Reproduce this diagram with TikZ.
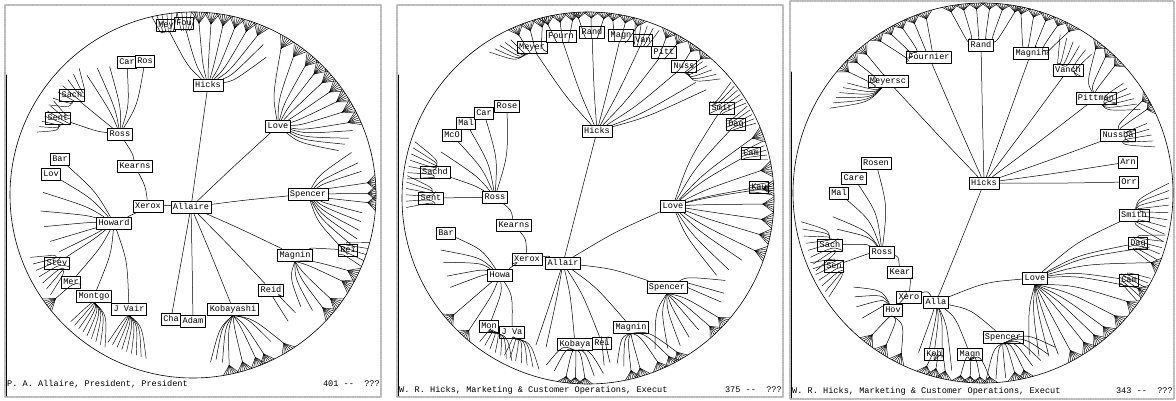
\documentclass[tikz,border=0pt]{standalone}
\usepackage{fontspec}
\newfontfamily\lmono{Liberation Mono}
\usetikzlibrary{calc}

\tikzset{
  emp/.style={draw, fill=white, line width=0.6pt,
    font=\lmono\fontsize{8.6}{10}\selectfont,
    inner xsep=2pt, inner ysep=2.3pt, text height=6pt, text depth=1.5pt},
  stat/.style={font=\lmono\fontsize{8.6}{10}\selectfont, inner sep=0pt},
  edge/.style={line width=0.5pt},
  leaf/.style={line width=0.45pt},
  rimline/.style={line width=0.6pt},
  frame/.style={draw=gray!55, densely dotted, line width=1.4pt},
}

% curved link, bowed towards the disc centre (o)
\newcommand{\geo}[3][edge]{%
  \path ($(#2)!.5!(#3)$) coordinate (mid);
  \draw[#1] (#2) .. controls ($(o)!.92!(mid)$) .. (#3);
}
% link out to a spot near the rim, with a tuft at its end
\newcommand{\twig}[3]{%
  \path (o) ++(#2:#3) coordinate (tip);
  \geo{#1}{tip}
  \foreach \dd in {-3,...,3}{
    \pgfmathsetmacro\ta{#2+0.8*\dd}
    \path (o) ++(\ta:\R) coordinate (rim);
    \draw[leaf] (tip) -- (rim);
  }
}
\newcommand{\twigs}[3]{\foreach \tw in {#2}{\twig{#1}{\tw}{#3}}}
% bare links
\newcommand{\stubs}[2]{%
  \foreach \su/\sv in {#2}{
    \path (o) ++(\su:\sv) coordinate (tip);
    \geo{#1}{tip}
  }
}
% fan of lines from a node: mid angle, half spread, count, reach
\newcommand{\spray}[5]{%
  \foreach \kk in {1,...,#4}{
    \pgfmathsetmacro\sa{#2-#3+2*#3*(\kk-1)/(#4-1)}
    \path (o) ++(\sa:#5) coordinate (end);
    \geo[leaf]{#1}{end}
  }
}

\begin{document}
\begin{tikzpicture}[x=1pt,y=-1pt,line cap=round,line join=round]
\useasboundingbox (0,0) rectangle (1176,401);

% ---------- first view: Allaire in the centre
\begin{scope}[name prefix=a-]
  \coordinate (o) at (193,195);
  \def\R{183}
  \draw[frame] (5,5) rectangle (381,397);
  \draw[line width=0.8pt] (6,75) -- (6,396);
  \draw[rimline] (o) circle[radius=\R];

  \node[emp] (allaire) at (191,207) {Allaire};
  \node[emp] (xerox) at (148,206) {Xerox};
  \node[emp] (kearns) at (135,166) {Kearns};
  \node[emp] (ross) at (120,134) {Ross};
  \node[emp] (howard) at (114,223) {Howard};
  \node[emp] (hicks) at (208,85) {Hicks};
  \node[emp] (love) at (278,126) {Love};
  \node[emp] (spencer) at (308,194) {Spencer};
  \node[emp] (magnin) at (295,255) {Magnin};
  \node[emp] (rei) at (348,250) {Rei};
  \node[emp] (reid) at (271,290) {Reid};
  \node[emp] (cha) at (171,319) {Cha};
  \node[emp] (adam) at (193,321) {Adam};
  \node[emp] (koba) at (233,309) {Kobayashi};
  \node[emp] (car) at (127,62) {Car};
  \node[emp] (ros) at (145,61) {Ros};
  \node[emp] (sach) at (72,95) {Sach};
  \node[emp] (sent) at (58,118) {Sent};
  \node[emp] (bar) at (60,159) {Bar};
  \node[emp] (lov) at (51,174) {Lov};
  \node[emp] (stev) at (57,263) {Stev};
  \node[emp] (mer) at (71,282) {Mer};
  \node[emp] (montgo) at (94,296) {Montgo};
  \node[emp] (jvair) at (129,309) {J Vair};
  \node[emp] (mey) at (166,25) {Mey};
  \node[emp] (fou) at (184,23) {Fou};

  \geo{allaire}{xerox}
  \geo{xerox}{kearns}
  \geo{kearns}{ross}
  \geo{xerox}{howard}
  \geo{allaire}{hicks}
  \geo{allaire}{love}
  \geo{allaire}{spencer}
  \geo{allaire}{magnin}
  \geo{allaire}{reid}
  \geo{allaire}{cha}
  \geo{allaire}{adam}
  \geo{allaire}{koba}
  \geo{magnin}{rei}
  \geo{ross}{car}
  \geo{ross}{ros}
  \geo{ross}{sach}
  \geo{ross}{sent}
  \geo{howard}{bar}
  \geo{howard}{lov}
  \geo{howard}{stev}
  \geo{howard}{mer}
  \geo{howard}{montgo}
  \geo{howard}{jvair}
  \geo{hicks}{mey}
  \geo{hicks}{fou}

  \twigs{hicks}{-88,-84,-80,-76,-72,-68}{172}
  \stubs{hicks}{-65/166,-62/156}
  \spray{mey}{-99}{4}{6}{183}
  \spray{fou}{-92}{3}{5}{183}
  \twigs{love}{-59,-54,-49,-45,-41,-37,-33,-29,-25}{171}
  \stubs{love}{-22/172,-20/166,-18.5/160,-17/152}
  \stubs{spencer}{-15/164,-11/168,-8/170}
  \twigs{spencer}{-4,-0.5,2.5}{175}
  \stubs{spencer}{6/170,9/170,12/170,15/170,18/170,21/166}
  \twigs{magnin.south}{26,30,37,41}{172}
  \stubs{magnin.south}{44/166,46/155}
  \spray{rei}{19}{4}{5}{183}
  \stubs{reid}{53/158,49/156}
  \stubs{koba.south}{84/168,82/166,80/170,62/166}
  \twigs{koba.south}{78,73.5,69,66,58.5}{174}
  \stubs{howard}{181/150,174/153,168/152,162/150,157/145}
  \spray{stev}{152}{7}{7}{174}
  \twig{mer}{143}{172}
  \spray{montgo.south}{127}{7}{9}{176}
  \spray{jvair.south}{113}{7}{9}{170}
  \spray{sach}{-140}{8}{7}{170}
  \spray{sent}{-152}{6}{7}{168}
  \stubs{ross}{-131.5/160,-127/159,-123/153}

  \node[stat, anchor=west] (who) at (7,384) {P. A. Allaire, President, President};
  \node[stat, anchor=east] (count) at (380,384) {401 --\ \ ???};
\end{scope}

% ---------- second view: moving towards Hicks
\begin{scope}[name prefix=b-]
  \coordinate (o) at (588,198);
  \def\R{186}
  \draw[frame] (397,5) rectangle (783,397);
  \draw[line width=0.8pt] (398.5,75) -- (398.5,396);
  \draw[rimline] (o) circle[radius=\R];

  \node[emp] (allair) at (563,263) {Allair};
  \node[emp] (xerox) at (527,259) {Xerox};
  \node[emp] (howa) at (500,275) {Howa};
  \node[emp] (kearns) at (514,225) {Kearns};
  \node[emp] (ross) at (495,197) {Ross};
  \node[emp] (hicks) at (597,131) {Hicks};
  \node[emp] (love) at (673,206) {Love};
  \node[emp] (spencer) at (667,287) {Spencer};
  \node[emp] (magnin) at (631,327) {Magnin};
  \node[emp] (rei) at (602,343) {Rei};
  \node[emp] (kobaya) at (575,344) {Kobaya};
  \node[emp] (mon) at (489,326) {Mon};
  \node[emp] (jva) at (512,332) {J Va};
  \node[emp] (bar) at (446,233) {Bar};
  \node[emp] (sachd) at (435,172) {Sachd};
  \node[emp] (sent) at (431,198) {Sent};
  \node[emp] (mco) at (452,135) {McO};
  \node[emp] (mal) at (466,123) {Mal};
  \node[emp] (car) at (484,113) {Car};
  \node[emp] (rose) at (507,106) {Rose};
  \node[emp] (meyer) at (532,47) {Meyer};
  \node[emp] (fourn) at (561,36) {Fourn};
  \node[emp] (rand) at (592,32) {Rand};
  \node[emp] (magn) at (621,35) {Magn};
  \node[emp] (van) at (643,40) {Van};
  \node[emp] (pitt) at (664,52) {Pitt};
  \node[emp] (nuss) at (684,66) {Nuss};
  \node[emp] (smit) at (722,108) {Smit};
  \node[emp] (dag) at (736,124) {Dag};
  \node[emp] (cam) at (751,153) {Cam};
  \node[emp] (kau) at (759,187) {Kau};

  \geo{allair}{xerox}
  \geo{xerox}{howa}
  \geo{xerox}{kearns}
  \geo{kearns}{ross}
  \geo{allair}{hicks}
  \geo{allair}{love}
  \geo{allair}{spencer}
  \geo{allair}{magnin}
  \geo{allair}{kobaya}
  \geo{allair}{rei}
  \geo{howa}{bar}
  \geo{howa}{mon}
  \geo{howa}{jva}
  \geo{ross}{sachd}
  \geo{ross}{sent}
  \geo{ross}{mco}
  \geo{ross}{mal}
  \geo{ross}{car}
  \geo{ross}{rose}
  \geo{hicks}{meyer}
  \geo{hicks}{fourn}
  \geo{hicks}{rand}
  \geo{hicks}{magn}
  \geo{hicks}{van}
  \geo{hicks}{pitt}
  \geo{hicks}{nuss}
  \geo{love}{smit}
  \geo{love}{dag}
  \geo{love}{cam}
  \geo{love}{kau}

  \stubs{allair}{109.5/156,105.7/155}
  \stubs{hicks}{-47/158,-42.5/160}
  \stubs{ross}{-162.6/154}
  \twigs{meyer}{-113,-109,-105}{177}
  \spray{meyer}{-120}{4}{5}{176}
  \twigs{fourn}{-103,-99,-95}{178}
  \twigs{rand}{-93,-89,-85}{180}
  \twigs{magn}{-82,-78,-74}{179}
  \spray{van}{-71}{4}{5}{182}
  \twigs{pitt}{-64,-60}{178}
  \twigs{nuss}{-55,-51}{179}
  \spray{nuss}{-46}{4}{5}{178}
  \twigs{love}{-20,-9,-3,2,7,12,17.5}{175}
  \stubs{love}{22/166,27/158,31/150}
  \spray{smit}{-35}{4}{6}{184}
  \spray{dag}{-27}{3}{5}{184}
  \spray{cam}{-15}{3}{5}{184}
  \spray{kau}{-3}{2}{4}{184}
  \stubs{spencer}{31/160,35/166,38/169}
  \twigs{spencer.south}{42.5,46.5}{177}
  \stubs{spencer.south}{50/172,54/172,58/174,62/170,66/165}
  \stubs{magnin.south}{80/168,78/172}
  \twigs{magnin.south}{76,73,67,63,60}{178}
  \twigs{kobaya.south}{97,94,91}{180}
  \stubs{kobaya.south}{104/172,101/176,88/178,85/176}
  \stubs{rei}{84.5/168,82.4/166}
  \stubs{howa}{160.5/156,156/158,151/161,147/164}
  \twigs{howa}{139,132}{178}
  \spray{mon.south}{121}{6}{7}{180}
  \spray{jva.south}{112}{6}{7}{178}
  \spray{sachd}{-168}{6}{7}{182}
  \spray{sent}{-178}{5}{6}{182}

  \node[stat, anchor=west] (who) at (399,390) {W. R. Hicks, Marketing \& Customer Operations, Execut};
  \node[stat, anchor=east] (count) at (782,390) {375 --\ \ ???};
\end{scope}

% ---------- third view: Hicks in the centre
\begin{scope}[name prefix=c-]
  \coordinate (o) at (983,193);
  \def\R{190}
  \draw[frame] (790,1) rectangle (1174,399);
  \draw[line width=0.8pt] (791.5,72) -- (791.5,398);
  \draw[rimline] (o) circle[radius=\R];

  \node[emp] (alla) at (936,302) {Alla};
  \node[emp] (xero) at (909,297) {Xero};
  \node[emp] (hov) at (893,310) {Hov};
  \node[emp] (kear) at (900,272) {Kear};
  \node[emp] (ross) at (882,252) {Ross};
  \node[emp] (sach) at (830,245) {Sach};
  \node[emp] (sen) at (834,266) {Sen};
  \node[emp] (mal) at (839,193) {Mal};
  \node[emp] (care) at (854,178) {Care};
  \node[emp] (rosen) at (876,163) {Rosen};
  \node[emp] (hicks) at (984,183) {Hicks};
  \node[emp] (meyersc) at (888,81) {Meyersc};
  \node[emp] (fournier) at (929,57) {Fournier};
  \node[emp] (rand) at (981,45) {Rand};
  \node[emp] (magnin) at (1031,53) {Magnin};
  \node[emp] (vanch) at (1068,70) {Vanch};
  \node[emp] (pittman) at (1096,98) {Pittman};
  \node[emp] (nussba) at (1118,135) {Nussba};
  \node[emp] (arn) at (1128,162) {Arn};
  \node[emp] (orr) at (1129,182) {Orr};
  \node[emp] (lowe) at (1035,278) {Love};
  \node[emp] (smith) at (1134,215) {Smith};
  \node[emp] (dag) at (1138,243) {Dag};
  \node[emp] (cam) at (1129,280) {Cam};
  \node[emp] (spencer) at (1003,337) {Spencer};
  \node[emp] (kob) at (934,354) {Kob};
  \node[emp] (magn) at (970,354) {Magn};

  \geo{alla}{xero}
  \geo{xero}{kear}
  \geo{kear}{ross}
  \geo{xero}{hov}
  \geo{alla}{hicks}
  \geo{alla}{lowe}
  \geo{alla}{spencer}
  \geo{alla}{magn}
  \geo{alla}{kob}
  \geo{ross}{sach}
  \geo{ross}{sen}
  \geo{ross}{mal}
  \geo{ross}{care}
  \geo{ross}{rosen}
  \geo{hicks}{meyersc}
  \geo{hicks}{fournier}
  \geo{hicks}{rand}
  \geo{hicks}{magnin}
  \geo{hicks}{vanch}
  \geo{hicks}{pittman}
  \geo{hicks}{nussba}
  \geo{hicks}{arn}
  \geo{hicks}{orr}
  \geo{lowe}{smith}
  \geo{lowe}{dag}
  \geo{lowe}{cam}

  \stubs{ross}{171/152,166/150}
  \spray{sach}{163}{8}{8}{184}
  \spray{sen}{152}{6}{7}{186}
  \stubs{hov}{144/160,141/165,138/170,134/174}
  \twigs{hov.south}{128,122.5,117}{180}
  \stubs{alla}{112/172,109/165,104/170,100/180}
  \twigs{kob.south}{108,105,102}{182}
  \twigs{magn.south}{97,94,91,88}{184}
  \stubs{spencer.south}{89/186,86/186,83/186}
  \twigs{spencer.south}{80,77}{182}
  \stubs{spencer.south}{74/180,71/177,68/174,65/170}
  \twigs{lowe.south}{61,56,52,48,43,37}{180}
  \stubs{lowe.south}{65/178,68/176,71/172,74/168}
  \twigs{lowe}{22.5,31.5}{182}
  \stubs{lowe}{18/175}
  \spray{smith}{6}{9}{9}{186}
  \spray{dag}{18}{5}{6}{187}
  \spray{cam}{31}{4}{6}{188}
  \twigs{meyersc}{-138,-134,-130}{181}
  \spray{meyersc}{-146}{5}{6}{175}
  \twigs{fournier}{-124,-120,-116,-112,-108}{183}
  \twigs{rand}{-100,-96,-92,-88,-84,-80}{184}
  \twigs{magnin}{-78,-74,-70,-66,-62}{183}
  \spray{vanch}{-58}{6}{6}{176}
  \twigs{pittman}{-52,-48,-44}{183}
  \spray{pittman}{-33}{5}{6}{178}
  \twigs{nussba}{-30,-27}{184}
  \spray{nussba}{-19}{4}{5}{178}

  \node[stat, anchor=west] (who) at (792,391) {W. R. Hicks, Marketing \& Customer Operations, Execut};
  \node[stat, anchor=east] (count) at (1173,391) {343 --\ \ ???};
\end{scope}
\end{tikzpicture}
\end{document}
